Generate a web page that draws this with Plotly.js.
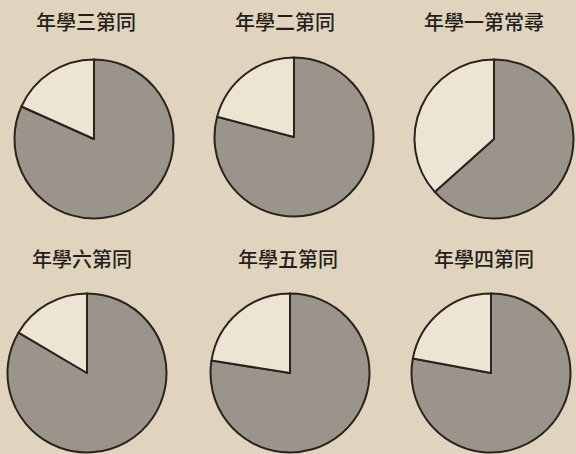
<!DOCTYPE html>
<html>
<head>
<meta charset="utf-8">
<script src="https://cdn.plot.ly/plotly-3.0.1.min.js"></script>
<style>html,body{margin:0;padding:0;background:#e0d4be;}#chart{width:576px;height:454px;}</style>
</head>
<body>
<div id="chart"></div>
<script>
// Data (percent shares per pie)
const titles = ['年學三第同', '年學二第同', '年學一第常尋', '年學六第同', '年學五第同', '年學四第同'];
const sliceLabels = ['灰', '白'];
const grayShare = [81.7, 79.1, 63.4, 83.5, 77.5, 77.9];
const whiteShare = [18.3, 20.9, 36.6, 16.5, 22.5, 22.1];

// Layout geometry (pixels)
const W = 576, H = 454;
const centers = [[94, 139], [294, 137], [494, 139], [87, 373], [290, 373], [491, 373]];
const R = 79.5;
const titlePos = [[86, 21], [285, 21], [484, 21], [82, 258], [288, 258], [484, 258]];

const traces = titles.map((t, i) => {
  const [cx, cy] = centers[i];
  return {
    type: 'pie',
    labels: sliceLabels,
    values: [grayShare[i], whiteShare[i]],
    sort: false,
    direction: 'clockwise',
    rotation: 0,
    textinfo: 'none',
    hoverinfo: 'skip',
    showlegend: false,
    marker: {colors: ['#9b948a', '#ede4d4'], line: {color: '#2a231e', width: 2}},
    domain: {
      x: [Math.max(0, (cx - R) / W), Math.min(1, (cx + R) / W)],
      y: [Math.max(0, 1 - (cy + R) / H), Math.min(1, 1 - (cy - R) / H)]
    }
  };
});

const annotations = titles.map((t, i) => ({
  text: t,
  x: titlePos[i][0] / W,
  y: 1 - titlePos[i][1] / H,
  xref: 'paper', yref: 'paper',
  xanchor: 'center', yanchor: 'middle',
  showarrow: false,
  font: {family: '"Noto Sans CJK TC", "Noto Sans CJK JP", sans-serif', size: 20, color: '#241e1a', weight: 500}
}));

Plotly.newPlot('chart', traces, {
  width: W, height: H,
  margin: {l: 0, r: 0, t: 0, b: 0},
  paper_bgcolor: '#e0d4be',
  plot_bgcolor: '#e0d4be',
  annotations: annotations,
  showlegend: false
}, {displayModeBar: false, staticPlot: true});
</script>
</body>
</html>
